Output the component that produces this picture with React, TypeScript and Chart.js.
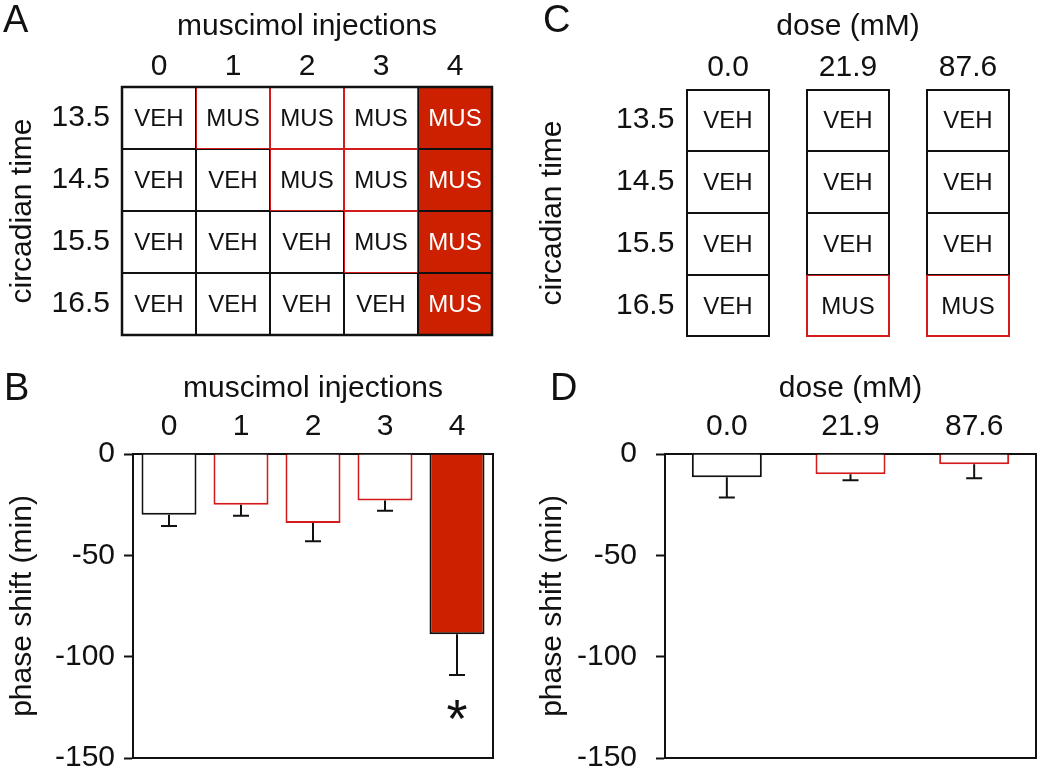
import { useEffect, useRef } from 'react';
import { Chart, registerables } from 'chart.js';

Chart.register(...registerables);

// ---------------- data ----------------
const injectionCounts = ['0', '1', '2', '3', '4'];
const doseLabels = ['0.0', '21.9', '87.6'];
const circadianTimes = ['13.5', '14.5', '15.5', '16.5'];

// Panel A: treatment per circadian time (rows) for each number of injections (columns)
const injA_ct135 = ['VEH', 'MUS', 'MUS', 'MUS', 'MUS'];
const injA_ct145 = ['VEH', 'VEH', 'MUS', 'MUS', 'MUS'];
const injA_ct155 = ['VEH', 'VEH', 'VEH', 'MUS', 'MUS'];
const injA_ct165 = ['VEH', 'VEH', 'VEH', 'VEH', 'MUS'];

// Panel C: treatment per circadian time (rows) for each dose (columns)
const doseC_ct135 = ['VEH', 'VEH', 'VEH'];
const doseC_ct145 = ['VEH', 'VEH', 'VEH'];
const doseC_ct155 = ['VEH', 'VEH', 'VEH'];
const doseC_ct165 = ['VEH', 'MUS', 'MUS'];

// Panel B: phase shift (min), mean and SEM
const phaseShiftB = [-30, -25, -34, -23, -89];
const errorB = [5.5, 5.5, 9, 5, 20];
const significanceB = ['', '', '', '', '*'];

// Panel D: phase shift (min), mean and SEM
const phaseShiftD = [-11.5, -10, -5];
const errorD = [10, 3, 7];
const significanceD = ['', '', ''];

const phaseTicks = [0, -50, -100, -150];

// ---------------- styles ----------------
const FAMILY = "'Liberation Sans', Arial, Helvetica, sans-serif";
const TEXT = '#111111';
const BLACK = '#111111';
const RED_LINE = '#D41A1A';
const RED_FILL = '#CC2000';
const FONT30 = { family: FAMILY, size: 30 };

function columnStatus(rows: string[][], col: number) {
  const n = rows.filter((r) => r[col] === 'MUS').length;
  return n === 0 ? 'none' : n === rows.length ? 'all' : 'some';
}

function letterPlugin(letter: string, x: number, y: number) {
  return {
    id: 'panelLetter',
    afterDraw(chart: any) {
      const ctx = chart.ctx;
      ctx.save();
      ctx.font = `38px ${FAMILY}`;
      ctx.fillStyle = TEXT;
      ctx.textAlign = 'left';
      ctx.textBaseline = 'alphabetic';
      ctx.fillText(letter, x, y);
      ctx.restore();
    },
  };
}

function makeGrid(canvas: HTMLCanvasElement, g: any) {
  const rows: string[][] = g.rows;
  const nR = rows.length;
  const status = g.cols.map((_: any, c: number) => columnStatus(rows, c));
  const filled = (r: number, c: number) => rows[r][c] === 'MUS' && status[c] === 'all';
  const OUT = 2;
  const IN = 1;

  const cellText = {
    id: 'cellText',
    afterDatasetsDraw(chart: any) {
      const ctx = chart.ctx;
      ctx.save();
      if (g.joinCols) {
        // outer frame of the joined table
        const a = chart.chartArea;
        ctx.strokeStyle = BLACK;
        ctx.lineWidth = 2.5;
        ctx.strokeRect(a.left, a.top, a.right - a.left, a.bottom - a.top);
      }
      ctx.font = `24px ${FAMILY}`;
      ctx.textAlign = 'center';
      ctx.textBaseline = 'middle';
      rows.forEach((row, r) => {
        const meta = chart.getDatasetMeta(r);
        meta.data.forEach((el: any, c: number) => {
          ctx.fillStyle = filled(r, c) ? '#ffffff' : TEXT;
          ctx.fillText(row[c], el.x, (el.y + el.base) / 2 + 1);
        });
      });
      ctx.restore();
    },
  };

  return new Chart(canvas, {
    type: 'bar',
    data: {
      labels: g.cols,
      datasets: rows.map((row, r) => ({
        label: g.rowLabels[r],
        data: row.map(() => [r, r + 1]),
        grouped: false,
        categoryPercentage: 1,
        barPercentage: g.barPct,
        borderSkipped: false,
        inflateAmount: 0,
        backgroundColor: (ctx: any) => (filled(r, ctx.dataIndex ?? 0) ? RED_FILL : '#ffffff'),
        borderColor: (ctx: any) => {
          const c = ctx.dataIndex ?? 0;
          return row[c] === 'MUS' && !filled(r, c) ? RED_LINE : BLACK;
        },
        borderWidth: () => ({
          top: !g.joinCols && r === 0 ? OUT : IN,
          bottom: !g.joinCols && r === nR - 1 ? OUT : IN,
          left: g.joinCols ? IN : OUT,
          right: g.joinCols ? IN : OUT,
        }),
      })),
    } as any,
    options: {
      animation: false,
      responsive: false,
      events: [],
      layout: {
        padding: { left: 0, top: 0, right: g.width - g.area.right, bottom: g.height - g.area.bottom },
      },
      plugins: { legend: { display: false }, tooltip: { enabled: false } },
      scales: {
        x: {
          type: 'category',
          position: 'top',
          offset: true,
          grid: { display: false, drawTicks: false },
          border: { display: false },
          ticks: { font: FONT30, color: TEXT, padding: g.xTickPad, maxRotation: 0, autoSkip: false },
          title: { display: true, text: g.xTitle, font: FONT30, color: TEXT, padding: { top: g.xTitlePad, bottom: 0 } },
          afterFit: (s: any) => {
            s.height = g.area.top;
            s.paddingLeft = 0;
            s.paddingRight = 0;
          },
        },
        y: {
          type: 'linear',
          min: 0,
          max: nR,
          reverse: true,
          afterBuildTicks: (s: any) => {
            s.ticks = g.rowLabels.map((_: any, i: number) => ({ value: i + 0.5 }));
          },
          ticks: {
            callback: (v: any) => g.rowLabels[Math.floor(Number(v))],
            font: FONT30,
            color: TEXT,
            padding: g.yTickPad,
            mirror: !!g.yMirror,
            crossAlign: 'near',
            autoSkip: false,
          },
          grid: { display: false, drawTicks: false },
          border: { display: false },
          title: { display: true, text: g.yTitle, font: FONT30, color: TEXT, padding: { top: g.yTitlePad, bottom: 0 } },
          afterFit: (s: any) => {
            s.width = g.area.left;
            s.paddingTop = 0;
            s.paddingBottom = 0;
          },
        },
      },
    } as any,
    plugins: [cellText, letterPlugin(g.letter, g.letterX, g.letterY)],
  });
}

function makeBars(canvas: HTMLCanvasElement, b: any) {
  const status = b.cols.map((_: any, c: number) => columnStatus(b.schedule, c));

  const errorPlugin = {
    id: 'errorBars',
    afterDatasetsDraw(chart: any) {
      const ctx = chart.ctx;
      const y = chart.scales.y;
      const meta = chart.getDatasetMeta(0);
      ctx.save();
      ctx.strokeStyle = BLACK;
      ctx.lineWidth = 2;
      meta.data.forEach((el: any, i: number) => {
        const yEnd = y.getPixelForValue(b.values[i] - b.errors[i]);
        ctx.beginPath();
        ctx.moveTo(el.x, el.y);
        ctx.lineTo(el.x, yEnd);
        ctx.moveTo(el.x - 8, yEnd);
        ctx.lineTo(el.x + 8, yEnd);
        ctx.stroke();
        if (b.sig[i]) {
          const fs = 54;
          ctx.font = `${fs}px ${FAMILY}`;
          ctx.fillStyle = TEXT;
          ctx.textAlign = 'center';
          ctx.textBaseline = 'alphabetic';
          ctx.fillText(b.sig[i], el.x, yEnd + 31 + 0.58 * fs);
        }
      });
      ctx.restore();
    },
  };

  const framePlugin = {
    id: 'frame',
    afterDraw(chart: any) {
      const { ctx, chartArea } = chart;
      ctx.save();
      ctx.strokeStyle = BLACK;
      ctx.lineWidth = 2;
      ctx.beginPath();
      ctx.moveTo(chartArea.left, chartArea.bottom);
      ctx.lineTo(chartArea.right, chartArea.bottom);
      ctx.lineTo(chartArea.right, chartArea.top);
      ctx.stroke();
      ctx.restore();
    },
  };

  return new Chart(canvas, {
    type: 'bar',
    data: {
      labels: b.cols,
      datasets: [
        {
          data: b.values,
          backgroundColor: status.map((s: string) => (s === 'all' ? RED_FILL : '#ffffff')),
          borderColor: status.map((s: string) => (s === 'some' ? RED_LINE : BLACK)),
          borderWidth: 2,
          barPercentage: b.barPct,
          categoryPercentage: 1,
          inflateAmount: 0,
        },
      ],
    } as any,
    options: {
      animation: false,
      responsive: false,
      events: [],
      layout: {
        padding: { left: 0, top: 0, right: b.width - b.area.right, bottom: b.height - b.area.bottom },
      },
      plugins: { legend: { display: false }, tooltip: { enabled: false } },
      scales: {
        x: {
          type: 'category',
          position: 'top',
          offset: true,
          grid: { display: false, drawTicks: false },
          border: { display: true, color: BLACK, width: 2 },
          ticks: { font: FONT30, color: TEXT, padding: b.xTickPad, maxRotation: 0, autoSkip: false },
          title: { display: true, text: b.xTitle, font: FONT30, color: TEXT, padding: { top: b.xTitlePad, bottom: 0 } },
          afterFit: (s: any) => {
            s.height = b.area.top;
            s.paddingLeft = 0;
            s.paddingRight = 0;
          },
        },
        y: {
          type: 'linear',
          min: Math.min(...phaseTicks),
          max: Math.max(...phaseTicks),
          afterBuildTicks: (s: any) => {
            s.ticks = phaseTicks.map((v) => ({ value: v }));
          },
          ticks: { font: FONT30, color: TEXT, padding: b.yTickPad, autoSkip: false },
          grid: { display: true, drawOnChartArea: false, drawTicks: true, tickLength: 9, tickColor: BLACK, tickWidth: 2 },
          border: { display: true, color: BLACK, width: 2 },
          title: { display: true, text: 'phase shift (min)', font: FONT30, color: TEXT, padding: { top: b.yTitlePad, bottom: 0 } },
          afterFit: (s: any) => {
            s.width = b.area.left;
            s.paddingTop = 0;
            s.paddingBottom = 0;
          },
        },
      },
    } as any,
    plugins: [errorPlugin, framePlugin, letterPlugin(b.letter, b.letterX, b.letterY)],
  });
}

export default function App() {
  const refA = useRef<HTMLCanvasElement>(null);
  const refB = useRef<HTMLCanvasElement>(null);
  const refC = useRef<HTMLCanvasElement>(null);
  const refD = useRef<HTMLCanvasElement>(null);

  useEffect(() => {
    const scheduleA = [injA_ct135, injA_ct145, injA_ct155, injA_ct165];
    const scheduleC = [doseC_ct135, doseC_ct145, doseC_ct155, doseC_ct165];
    const charts = [
      makeGrid(refA.current!, {
        rows: scheduleA,
        cols: injectionCounts,
        rowLabels: circadianTimes,
        xTitle: 'muscimol injections',
        yTitle: 'circadian time',
        width: 525,
        height: 360,
        area: { left: 122, top: 87, right: 492, bottom: 335 },
        barPct: 1,
        joinCols: true,
        xTitlePad: 9,
        xTickPad: 2,
        yTitlePad: 5,
        yTickPad: 12,
        letter: 'A',
        letterX: 3,
        letterY: 32,
      }),
      makeGrid(refC.current!, {
        rows: scheduleC,
        cols: doseLabels,
        rowLabels: circadianTimes,
        xTitle: 'dose (mM)',
        yTitle: 'circadian time',
        width: 525,
        height: 360,
        area: { left: 143, top: 89, right: 503, bottom: 337 },
        barPct: 0.7,
        joinCols: false,
        xTitlePad: 9,
        xTickPad: 3,
        yTitlePad: 10,
        yTickPad: -52,
        yMirror: true,
        letter: 'C',
        letterX: 18,
        letterY: 32,
      }),
      makeBars(refB.current!, {
        schedule: scheduleA,
        cols: injectionCounts,
        values: phaseShiftB,
        errors: errorB,
        sig: significanceB,
        xTitle: 'muscimol injections',
        width: 525,
        height: 412,
        area: { left: 133, top: 94, right: 493, bottom: 398 },
        barPct: 0.764,
        xTitlePad: 11,
        xTickPad: 9,
        yTitlePad: 5,
        yTickPad: 9,
        letter: 'B',
        letterX: 4,
        letterY: 40,
      }),
      makeBars(refD.current!, {
        schedule: scheduleC,
        cols: doseLabels,
        values: phaseShiftD,
        errors: errorD,
        sig: significanceD,
        xTitle: 'dose (mM)',
        width: 525,
        height: 412,
        area: { left: 140, top: 94, right: 511, bottom: 398 },
        barPct: 0.566,
        xTitlePad: 11,
        xTickPad: 9,
        yTitlePad: 10,
        yTickPad: 19,
        letter: 'D',
        letterX: 25,
        letterY: 40,
      }),
    ];
    return () => charts.forEach((c) => c.destroy());
  }, []);

  const cs = (left: number, top: number, w: number, h: number) => ({
    position: 'absolute' as const,
    left,
    top,
    width: w,
    height: h,
  });

  return (
    <div style={{ position: 'fixed', left: 0, top: 0, width: 1050, height: 772, background: '#ffffff' }}>
      <canvas ref={refA} width={525} height={360} style={cs(0, 0, 525, 360)} />
      <canvas ref={refC} width={525} height={360} style={cs(525, 0, 525, 360)} />
      <canvas ref={refB} width={525} height={412} style={cs(0, 360, 525, 412)} />
      <canvas ref={refD} width={525} height={412} style={cs(525, 360, 525, 412)} />
    </div>
  );
}
